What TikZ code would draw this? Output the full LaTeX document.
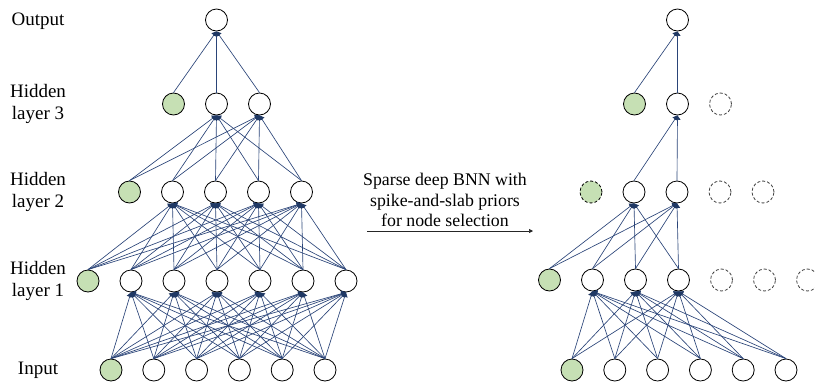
\documentclass[tikz,border=0pt]{standalone}
\usepackage{fontspec}
\setmainfont{Liberation Serif}
\usetikzlibrary{arrows.meta}
\definecolor{edgeblue}{RGB}{42,68,120}
\definecolor{tipblue}{RGB}{31,56,100}
\definecolor{nodegreen}{RGB}{198,224,180}
\tikzset{
  neuron/.style={circle,draw=black,line width=0.8pt,minimum size=22pt,inner sep=0pt,fill=white},
  greenneuron/.style={neuron,fill=nodegreen},
  offneuron/.style={neuron,draw=black!75,dashed,dash pattern=on 3pt off 2pt},
  offgreen/.style={greenneuron,dashed,dash pattern=on 3pt off 2pt},
  conn/.style={draw=edgeblue,line width=0.65pt,-{Triangle[length=4.5pt,width=6pt,fill=tipblue,color=tipblue]}},
  lbl/.style={font=\fontsize{19}{22}\selectfont,align=center},
  midtxt/.style={font=\fontsize{17.8}{20.5}\selectfont,align=center},
}
\begin{document}
\begin{tikzpicture}[x=1pt,y=-1pt]
\clip (0,0) rectangle (815,381);
\fill[white] (0,0) rectangle (815,381);
% labels
\node[lbl] (tout) at (38,21) {Output};
\node[lbl] (th3) at (38,104) {Hidden\\layer 3};
\node[lbl] (th2) at (38,192) {Hidden\\layer 2};
\node[lbl] (th1) at (38,281) {Hidden\\layer 1};
\node[lbl] (tin) at (38,370) {Input};
% ---------- left network ----------
\foreach \i in {0,...,5} {
  \ifnum\i=0 \node[greenneuron] (LI\i) at ({111+42.8*\i},370) {};
  \else \node[neuron] (LI\i) at ({111+42.8*\i},370) {}; \fi }
\foreach \i in {0,...,6} {
  \ifnum\i=0 \node[greenneuron] (LA\i) at ({88+43*\i},281) {};
  \else \node[neuron] (LA\i) at ({88+43*\i},281) {}; \fi }
\foreach \i in {0,...,4} {
  \ifnum\i=0 \node[greenneuron] (LB\i) at ({129.5+43*\i},192) {};
  \else \node[neuron] (LB\i) at ({129.5+43*\i},192) {}; \fi }
\foreach \i in {0,...,2} {
  \ifnum\i=0 \node[greenneuron] (LC\i) at ({173.5+43*\i},104) {};
  \else \node[neuron] (LC\i) at ({173.5+43*\i},104) {}; \fi }
\node[neuron] (LO) at (216.5,20) {};
% left edges
\foreach \t in {1,...,6} \foreach \s in {0,...,5} \draw[conn] (LI\s.north) -- (LA\t.south);
\foreach \t in {1,...,4} \foreach \s in {0,...,6} \draw[conn] (LA\s.north) -- (LB\t.south);
\foreach \t in {1,2} \foreach \s in {0,...,4} \draw[conn] (LB\s.north) -- (LC\t.south);
\foreach \s in {0,...,2} \draw[conn] (LC\s.north) -- (LO.south);
% ---------- right network ----------
\foreach \i in {0,...,5} {
  \ifnum\i=0 \node[greenneuron] (RI\i) at ({572+42.8*\i},370) {};
  \else \node[neuron] (RI\i) at ({572+42.8*\i},370) {}; \fi }
\foreach \i in {0,...,6} {
  \ifnum\i=0 \node[greenneuron] (RA\i) at ({549.5+43*\i},280) {};
  \else\ifnum\i<4 \node[neuron] (RA\i) at ({549.5+43*\i},280) {};
  \else \node[offneuron] (RA\i) at ({549.5+43*\i},280) {}; \fi\fi }
\foreach \i in {0,...,4} {
  \ifnum\i=0 \node[offgreen] (RB\i) at ({591+43*\i},192) {};
  \else\ifnum\i<3 \node[neuron] (RB\i) at ({591+43*\i},192) {};
  \else \node[offneuron] (RB\i) at ({591+43*\i},192) {}; \fi\fi }
\foreach \i in {0,...,2} {
  \ifnum\i=0 \node[greenneuron] (RC\i) at ({634.5+43*\i},104) {};
  \else\ifnum\i<2 \node[neuron] (RC\i) at ({634.5+43*\i},104) {};
  \else \node[offneuron] (RC\i) at ({634.5+43*\i},104) {}; \fi\fi }
\node[neuron] (RO) at (677.5,20) {};
% right edges
\foreach \t in {1,2,3} \foreach \s in {0,...,5} \draw[conn] (RI\s.north) -- (RA\t.south);
\foreach \t in {1,2} \foreach \s in {0,...,3} \draw[conn] (RA\s.north) -- (RB\t.south);
\foreach \s in {1,2} \draw[conn] (RB\s.north) -- (RC1.south);
\foreach \s in {0,1} \draw[conn] (RC\s.north) -- (RO.south);
% ---------- middle ----------
\node[midtxt] (mt) at (445,200) {Sparse deep BNN with\\spike-and-slab priors\\for node selection};
\coordinate (ma) at (367,231);
\coordinate (mb) at (533,231);
\draw[draw=black!85,line width=0.7pt,-{Triangle[length=4pt,width=4pt]}] (ma) -- (mb);
\end{tikzpicture}
\end{document}
